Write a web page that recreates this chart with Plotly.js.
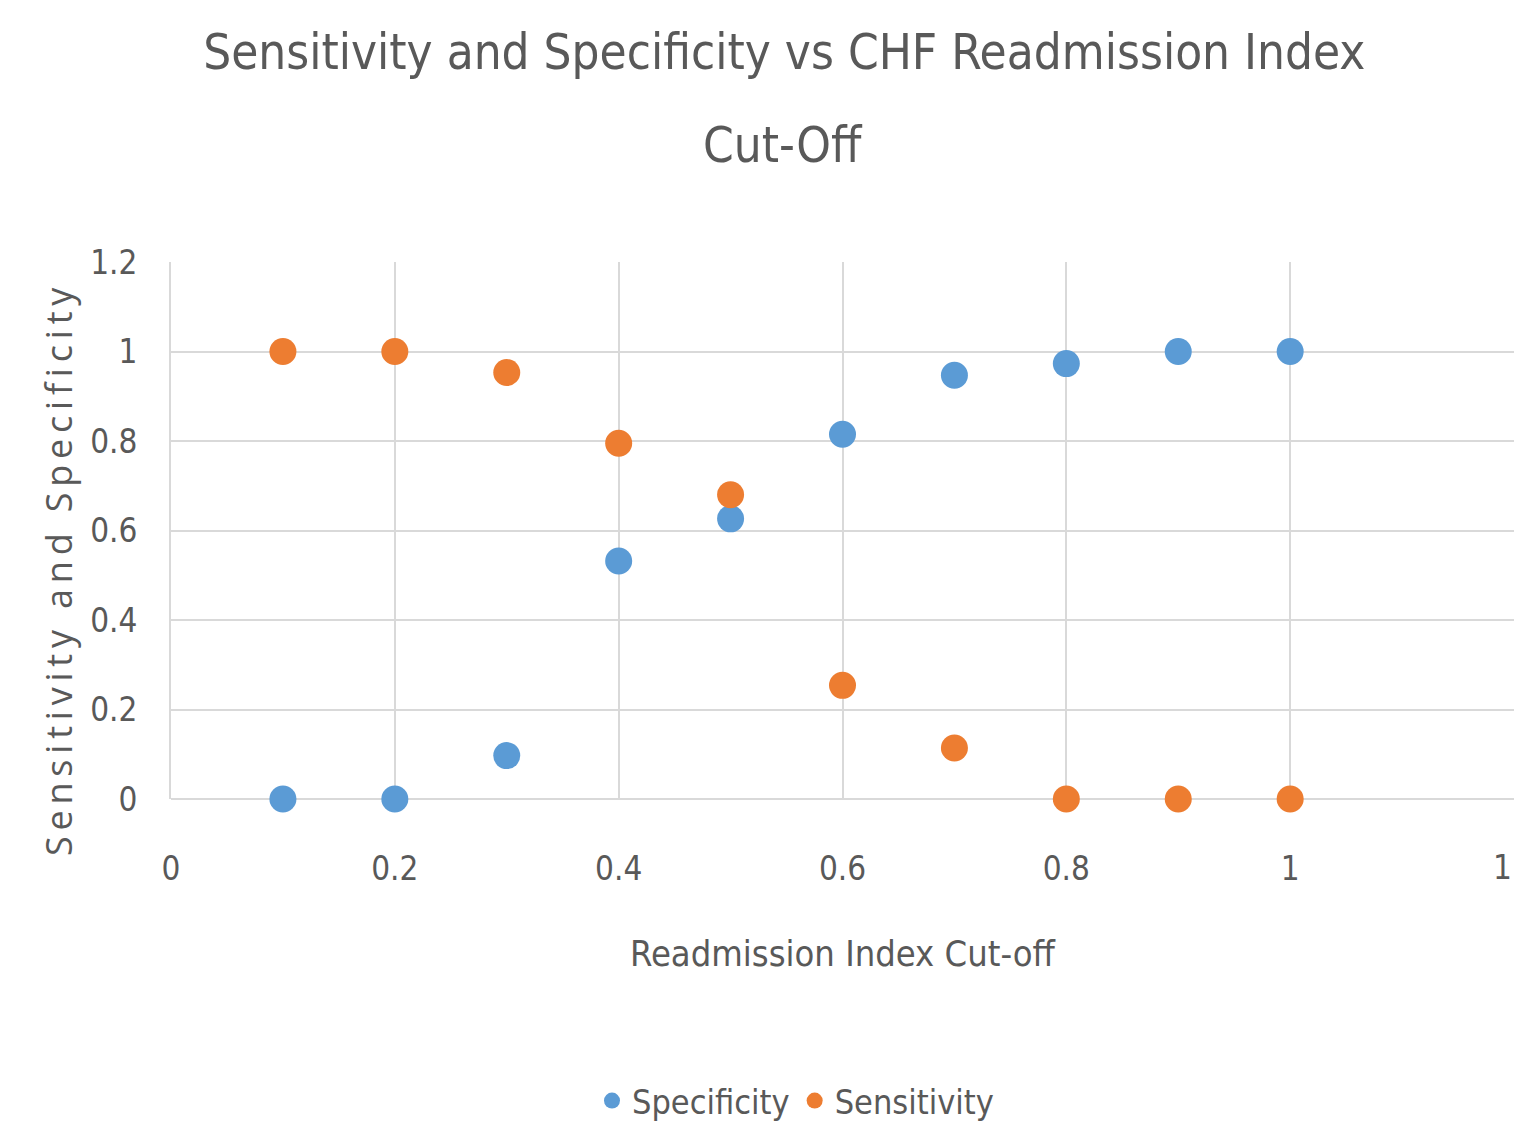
<!DOCTYPE html>
<html>
<head>
<meta charset="utf-8">
<script src="https://cdn.plot.ly/plotly-3.0.1.min.js"></script>
<style>
html,body{margin:0;padding:0;background:#fff;}
#chart{width:1514px;height:1130px;}
#chart .annotation[data-index="0"] text{letter-spacing:5.8px;}
</style>
</head>
<body>
<div id="chart"></div>
<script>
const cutoffs = [0.1, 0.2, 0.3, 0.4, 0.5, 0.6, 0.7, 0.8, 0.9, 1.0];
const specificity = [0, 0, 0.097, 0.532, 0.626, 0.815, 0.947, 0.973, 1.0, 1.0];
const sensitivity = [1.0, 1.0, 0.953, 0.795, 0.68, 0.254, 0.114, 0, 0, 0];
const xTickVals = [0, 0.2, 0.4, 0.6, 0.8, 1.0, 1.2];
const xTickText = ["0", "0.2", "0.4", "0.6", "0.8", "1", "1"];
const yTickVals = [0, 0.2, 0.4, 0.6, 0.8, 1.0, 1.2];
const yTickText = ["0", "0.2", "0.4", "0.6", "0.8", "1", "1.2"];

const narrow = '"Liberation Sans Narrow", "DejaVu Sans Condensed", "Roboto Condensed", sans-serif';
const grey = '#595959';
const tickSize = 33;

const traces = [
  {x: cutoffs, y: specificity, name: 'Specificity', type: 'scatter', mode: 'markers',
   marker: {color: '#5B9BD5', size: 27}, cliponaxis: false},
  {x: cutoffs, y: sensitivity, name: 'Sensitivity', type: 'scatter', mode: 'markers',
   marker: {color: '#ED7D31', size: 27}, cliponaxis: false}
];

const lastIdx = xTickVals.length - 1;

const layout = {
  width: 1514, height: 1130,
  paper_bgcolor: '#fff', plot_bgcolor: '#fff',
  margin: {l: 171, r: 0, t: 262, b: 330},
  font: {family: narrow, color: grey},
  title: {text: 'Sensitivity and Specificity vs CHF Readmission Index',
          font: {family: narrow, size: 49, color: grey},
          x: 0.518, xanchor: 'center', yref: 'container', y: 0.954, yanchor: 'middle'},
  xaxis: {range: [0, 1.2], tickvals: xTickVals.slice(0, lastIdx), ticktext: xTickText.slice(0, lastIdx),
          showgrid: true, gridcolor: '#D9D9D9', gridwidth: 2,
          zeroline: false, showline: false,
          ticks: 'outside', ticklen: 40, tickcolor: 'rgba(0,0,0,0)',
          tickfont: {family: narrow, size: tickSize, color: grey}},
  yaxis: {range: [0, 1.2], tickvals: yTickVals, ticktext: yTickText,
          showgrid: true, gridcolor: '#D9D9D9', gridwidth: 2,
          zeroline: true, zerolinecolor: '#D9D9D9', zerolinewidth: 2,
          showline: true, linecolor: '#D9D9D9', linewidth: 2,
          ticks: 'outside', ticklen: 25, tickcolor: 'rgba(0,0,0,0)',
          tickfont: {family: narrow, size: tickSize, color: grey}},
  showlegend: true,
  legend: {orientation: 'h', x: 0.465, xanchor: 'center', y: -0.563, yanchor: 'middle',
           font: {family: narrow, size: 34, color: grey}, itemsizing: 'trace', itemwidth: 30},
  annotations: [
    {text: 'Sensitivity and Specificity', xref: 'paper', yref: 'paper',
     x: -0.084, y: 0.429, xanchor: 'center', yanchor: 'middle', textangle: -90,
     showarrow: false, font: {family: '"Open Sans", "Noto Sans", sans-serif', size: 36, color: grey}},
    {text: xTickText[lastIdx], xref: 'x', yref: 'paper', x: xTickVals[lastIdx], y: 0,
     xanchor: 'right', yanchor: 'middle', yshift: -68, showarrow: false,
     font: {family: narrow, size: tickSize, color: grey}},
    {text: 'Cut-Off', xref: 'paper', yref: 'paper', x: 0.456, y: 1, xanchor: 'center', yanchor: 'middle',
     yshift: 117, showarrow: false, font: {family: narrow, size: 49, color: grey}},
    {text: 'Readmission Index Cut-off', xref: 'paper', yref: 'paper', x: 0.5, y: 0, xanchor: 'center',
     yanchor: 'middle', yshift: -154, showarrow: false, font: {family: narrow, size: 36, color: grey}}
  ]
};

Plotly.newPlot('chart', traces, layout, {displayModeBar: false, responsive: false});
</script>
</body>
</html>
